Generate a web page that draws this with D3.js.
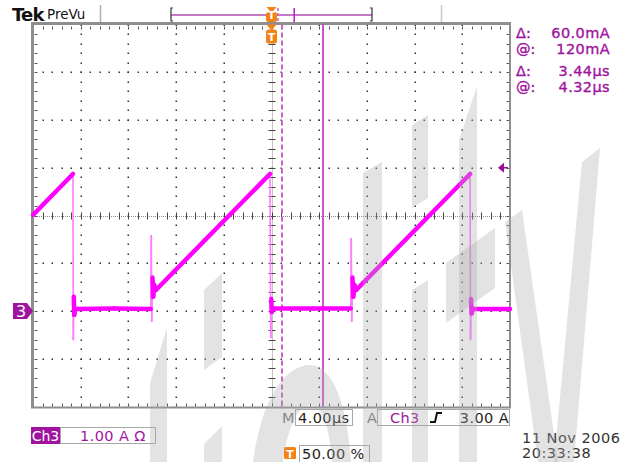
<!DOCTYPE html>
<html><head><meta charset="utf-8">
<script src="https://cdn.jsdelivr.net/npm/d3@7/dist/d3.min.js"></script>
<style>
html,body{margin:0;padding:0;background:#fff;}
svg{display:block;}
text{font-family:"DejaVu Sans",sans-serif;}
</style></head>
<body>
<script>
// ---------------- data ----------------
// time in microseconds relative to trigger, current in amperes (Ch3, 1 A/div)
const timeUs   = [-20, -16.65, -16.62, -16.58, -16.54, -16.47, -13.2, -10.12, -10.08, -10.04, -9.98, -9.92, -9.85, -9.69, -0.13, -0.06, -0.02, 0.02, 0.13, 3.5, 6.65, 6.69, 6.73, 6.79, 6.86, 6.94, 7.10, 16.65, 16.69, 16.73, 16.78, 16.90, 20];
const currentA = [2.01, 2.87, -0.61, 0.30, -0.08, 0.04, 0.05, 0.04, 1.59, -0.23, 0.70, 0.30, 0.55, 0.44, 2.87, -0.57, 0.25, -0.02, 0.05, 0.05, 0.05, 1.53, -0.23, 0.70, 0.30, 0.55, 0.44, 2.87, -0.61, 0.25, -0.05, 0.04, 0.04];
const timeDomain = [-20, 20];      // 4.00 us/div, 10 div
const ampDomain  = [-2, 6];        // 1.00 A/div, 8 div, ground 2 div below centre
const cursorsUs  = [0.88, 4.32];   // dashed, solid
const triggerLevelA = 3.00;
const readoutLabels = ["\u0394:", "@:", "\u0394:", "@:"];
const readoutValues = ["60.0mA", "120mA", "3.44\u00b5s", "4.32\u00b5s"];
const timebaseLabel = "4.00\u00b5s";
const triggerSrc = "Ch3", triggerLevelLabel = "3.00 A";
const chScaleLabel = "1.00 A \u03a9";
const triggerPosLabel = "50.00 %";
const dateLabel = "11 Nov 2006", timeLabel = "20:33:38";

// ---------------- layout ----------------
const W = 630, H = 462;
const L = 33, R = 510, T = 24.5, B = 406.5;
const PURPLE = "#a0139f", TRACE = "#ff00ff", FAST = "#ff7cff", ORANGE = "#f58214";

const svg = d3.select("body").append("svg").attr("width", W).attr("height", H);
const x = d3.scaleLinear().domain(timeDomain).range([L, R]);
const y = d3.scaleLinear().domain(ampDomain).range([B, T]);

// ---------------- graticule ----------------
const g = svg.append("g");
const majT = d3.range(timeDomain[0], timeDomain[1] + 1e-6, 4);
const minT = d3.range(timeDomain[0], timeDomain[1] + 1e-6, 0.8);
const majA = d3.range(ampDomain[0], ampDomain[1] + 1e-6, 1);
const minA = d3.range(ampDomain[0], ampDomain[1] + 1e-6, 0.2);
const cT = 0, cA = 2;
const dots = [];
majT.slice(1, -1).forEach(t => { if (Math.abs(t - cT) > 1e-6) minA.forEach(a => dots.push([x(t), y(a)])); });
majA.slice(1, -1).forEach(a => { if (Math.abs(a - cA) > 1e-6) minT.forEach(t => dots.push([x(t), y(a)])); });
g.selectAll("rect.dot").data(dots).join("rect").attr("class", "dot")
  .attr("x", d => Math.round(d[0]) - 0.5).attr("y", d => Math.round(d[1]) - 0.5)
  .attr("width", 1.5).attr("height", 1.5).attr("fill", "#333");
// centre lines
g.append("line").attr("x1", L).attr("x2", R).attr("y1", Math.round(y(cA)) + 0.5).attr("y2", Math.round(y(cA)) + 0.5)
  .attr("stroke", "#8a8a8a").attr("stroke-dasharray", "1,1");
g.append("line").attr("y1", T).attr("y2", B).attr("x1", Math.round(x(cT)) + 0.5).attr("x2", Math.round(x(cT)) + 0.5)
  .attr("stroke", "#8a8a8a").attr("stroke-dasharray", "1,1");
g.selectAll("line.ctx").data(minT.slice(1, -1)).join("line").attr("class", "ctx")
  .attr("x1", d => Math.round(x(d)) + 0.5).attr("x2", d => Math.round(x(d)) + 0.5)
  .attr("y1", y(cA) - 3).attr("y2", y(cA) + 4).attr("stroke", "#444");
g.selectAll("line.cty").data(minA.slice(1, -1)).join("line").attr("class", "cty")
  .attr("y1", d => Math.round(y(d)) + 0.5).attr("y2", d => Math.round(y(d)) + 0.5)
  .attr("x1", x(cT) - 3).attr("x2", x(cT) + 4).attr("stroke", "#444");
// border ticks
const bt = [];
minT.slice(1, -1).forEach(t => { bt.push([x(t), T + 1, x(t), T + 4]); bt.push([x(t), B - 4, x(t), B - 1]); });
minA.slice(1, -1).forEach(a => { bt.push([L + 1, y(a), L + 4, y(a)]); bt.push([R - 4, y(a), R - 1, y(a)]); });
g.selectAll("line.bt").data(bt).join("line").attr("class", "bt")
  .attr("x1", d => Math.round(d[0]) + 0.5).attr("y1", d => Math.round(d[1]) + 0.5)
  .attr("x2", d => Math.round(d[2]) + 0.5).attr("y2", d => Math.round(d[3]) + 0.5)
  .attr("stroke", "#555");
// frame
g.append("rect").attr("x", L - 2).attr("y", T - 2.5).attr("width", R - L + 3).attr("height", 3).attr("fill", "#8e8e8e");
g.append("rect").attr("x", L - 2).attr("y", T).attr("width", 3).attr("height", B - T + 1).attr("fill", "#8e8e8e");
g.append("rect").attr("x", R - 1).attr("y", T).attr("width", 2).attr("height", B - T + 1).attr("fill", "#8e8e8e");
g.append("rect").attr("x", L - 2).attr("y", B).attr("width", R - L + 3).attr("height", 2).attr("fill", "#8e8e8e");

// ---------------- cursors ----------------
svg.append("line").attr("x1", x(cursorsUs[0])).attr("x2", x(cursorsUs[0])).attr("y1", T).attr("y2", B)
  .attr("stroke", "#c466c4").attr("stroke-width", 2).attr("stroke-dasharray", "5,3");
svg.append("line").attr("x1", x(cursorsUs[1])).attr("x2", x(cursorsUs[1])).attr("y1", T).attr("y2", B)
  .attr("stroke", "#c21ac2").attr("stroke-width", 1.5);

// ---------------- trace ----------------
const pts = timeUs.map((t, i) => [t, currentA[i]]);
const segs = d3.pairs(pts);
const isFast = s => Math.abs(s[1][1] - s[0][1]) > 0.8 && Math.abs(s[1][0] - s[0][0]) < 0.2;
const tg = svg.append("g");
tg.selectAll("line.fast").data(segs.filter(isFast)).join("line").attr("class", "fast")
  .attr("x1", d => x(d[0][0])).attr("y1", d => y(d[0][1])).attr("x2", d => x(d[1][0])).attr("y2", d => y(d[1][1]))
  .attr("stroke", FAST).attr("stroke-width", 1.6);
tg.selectAll("line.slow").data(segs.filter(s => !isFast(s))).join("line").attr("class", "slow")
  .attr("x1", d => x(d[0][0])).attr("y1", d => y(d[0][1])).attr("x2", d => x(d[1][0])).attr("y2", d => y(d[1][1]))
  .attr("stroke", TRACE).attr("stroke-width", 4.5).attr("stroke-linecap", "round");

// ---------------- markers ----------------
const gy = y(0);
svg.append("path").attr("d", `M13,${gy - 8} L27,${gy - 8} L33,${gy} L27,${gy + 8} L13,${gy + 8} Z`).attr("fill", PURPLE);
svg.append("text").attr("x", 21).attr("y", gy + 6).attr("text-anchor", "middle").attr("fill", "#fff")
  .attr("font-size", 16).text("3");
const ty = y(triggerLevelA);
svg.append("path").attr("d", `M498,${ty} L504,${ty - 5} L504,${ty + 5} Z`).attr("fill", "#9a0d9a");
svg.append("line").attr("x1", 503).attr("x2", 508).attr("y1", ty).attr("y2", ty).attr("stroke", "#9a0d9a").attr("stroke-width", 1.5);
function tBadge(cx, top, h) {
  const gg = svg.append("g");
  gg.append("path").attr("d", `M${cx - 5},${top} L${cx + 5},${top} L${cx},${top + 6} Z`).attr("fill", ORANGE);
  gg.append("rect").attr("x", cx - 5.5).attr("y", top + 5).attr("width", 11).attr("height", h).attr("rx", 2.5).attr("fill", ORANGE);
  gg.append("text").attr("x", cx).attr("y", top + 5 + h - 3).attr("text-anchor", "middle").attr("fill", "#fff")
    .attr("font-size", 11).attr("font-weight", "bold").text("T");
}
tBadge(x(0), T, 14);

// ---------------- top status bar ----------------
svg.append("text").attr("x", 12).attr("y", 20.5).attr("font-family", "Liberation Sans, Arial").attr("font-weight", "bold")
  .attr("font-size", 18).attr("letter-spacing", -0.8).attr("fill", "#111").text("Tek");
svg.append("text").attr("x", 47).attr("y", 19).attr("font-size", 13.5).attr("fill", "#111").text("PreVu");
svg.append("line").attr("x1", 100.5).attr("x2", 100.5).attr("y1", 5).attr("y2", 22).attr("stroke", "#b0b0b0").attr("stroke-width", 1.5);
svg.append("line").attr("x1", 441.5).attr("x2", 441.5).attr("y1", 5).attr("y2", 22).attr("stroke", "#c8c8c8").attr("stroke-width", 1.5);
const mini = d3.scaleLinear().domain(timeDomain).range([171, 372]);
svg.append("line").attr("x1", mini(timeDomain[0])).attr("x2", mini(timeDomain[1])).attr("y1", 15).attr("y2", 15)
  .attr("stroke", "#c77bc7").attr("stroke-width", 2);
svg.append("path").attr("d", `M${mini(timeDomain[0]) + 2},8 L${mini(timeDomain[0])},8 L${mini(timeDomain[0])},21 L${mini(timeDomain[0]) + 2},21`)
  .attr("fill", "none").attr("stroke", "#333").attr("stroke-width", 1.2);
svg.append("path").attr("d", `M${mini(timeDomain[1]) - 2},8 L${mini(timeDomain[1])},8 L${mini(timeDomain[1])},21 L${mini(timeDomain[1]) - 2},21`)
  .attr("fill", "none").attr("stroke", "#333").attr("stroke-width", 1.2);
svg.append("line").attr("x1", mini(cursorsUs[0]) + 2).attr("x2", mini(cursorsUs[0]) + 2).attr("y1", 8).attr("y2", 22)
  .attr("stroke", "#c466c4").attr("stroke-width", 1.5).attr("stroke-dasharray", "3,2");
svg.append("line").attr("x1", mini(cursorsUs[1]) + 1).attr("x2", mini(cursorsUs[1]) + 1).attr("y1", 8).attr("y2", 22)
  .attr("stroke", "#c21ac2").attr("stroke-width", 1.5);
tBadge(mini(0), 7, 10);

// ---------------- readouts ----------------
const ro = svg.append("g").attr("fill", PURPLE).attr("stroke", PURPLE).attr("stroke-width", 0.35).attr("font-size", 14.5);
const roY = [38, 54, 76, 92];
readoutLabels.forEach((l, i) => ro.append("text").attr("x", 516).attr("y", roY[i]).text(l));
readoutValues.forEach((v, i) => ro.append("text").attr("x", 610).attr("y", roY[i]).attr("text-anchor", "end").attr("letter-spacing", 0.4).text(v));

// ---------------- bottom status ----------------
const bs = svg.append("g").attr("font-size", 14.5);
bs.append("text").attr("x", 282).attr("y", 423).attr("fill", "#777").text("M");
bs.append("rect").attr("x", 295.5).attr("y", 409.5).attr("width", 57).attr("height", 16).attr("fill", "#fff").attr("stroke", "#a8a8a8");
bs.append("text").attr("x", 298).attr("y", 423).attr("fill", "#222").attr("letter-spacing", 0.4).text(timebaseLabel);
bs.append("text").attr("x", 367).attr("y", 423).attr("fill", "#777").text("A");
bs.append("rect").attr("x", 377.5).attr("y", 409.5).attr("width", 132).attr("height", 16).attr("fill", "#fff").attr("stroke", "#a8a8a8");
bs.append("text").attr("x", 390).attr("y", 423).attr("fill", PURPLE).attr("letter-spacing", 0.4).text(triggerSrc);
bs.append("path").attr("d", "M430,422 L435,422 L437,413 L442,413").attr("fill", "none").attr("stroke", "#111").attr("stroke-width", 2);
bs.append("text").attr("x", 509).attr("y", 423).attr("text-anchor", "end").attr("fill", "#222").attr("letter-spacing", 0.4).text(triggerLevelLabel);
bs.append("rect").attr("x", 31).attr("y", 427).attr("width", 29).attr("height", 17).attr("fill", PURPLE);
bs.append("text").attr("x", 45.5).attr("y", 441).attr("text-anchor", "middle").attr("fill", "#fff").attr("font-size", 14).text("Ch3");
bs.append("rect").attr("x", 60.5).attr("y", 427.5).attr("width", 95).attr("height", 16).attr("fill", "#fff").attr("stroke", "#a8a8a8");
bs.append("text").attr("x", 80).attr("y", 441).attr("fill", PURPLE).attr("letter-spacing", 0.4).text(chScaleLabel);
bs.append("rect").attr("x", 284).attr("y", 447).attr("width", 12).attr("height", 12).attr("rx", 1.5).attr("fill", ORANGE);
bs.append("text").attr("x", 290).attr("y", 457.5).attr("text-anchor", "middle").attr("fill", "#fff").attr("font-size", 11).attr("font-weight", "bold").text("T");
bs.append("rect").attr("x", 299.5).attr("y", 445.5).attr("width", 70).attr("height", 17).attr("fill", "#fff").attr("stroke", "#a8a8a8");
bs.append("text").attr("x", 302).attr("y", 459).attr("fill", "#222").attr("letter-spacing", 0.4).text(triggerPosLabel);
bs.append("text").attr("x", 522).attr("y", 443).attr("fill", "#333").attr("letter-spacing", 0.5).text(dateLabel);
bs.append("text").attr("x", 522).attr("y", 458).attr("fill", "#333").attr("letter-spacing", 0.5).text(timeLabel);

// ---------------- watermark (decorative overlay) ----------------
const wmPolys = [
  [[150,383],[167,328],[167,462],[150,462]],
  [[204,290],[222,273],[222,357],[204,370]],
  [[204,444],[222,426],[222,462],[204,462]],
  [[363,173],[382,162],[382,462],[363,462]],
  [[412,125],[428,115],[428,198],[412,208]],
  [[412,290],[428,280],[428,462],[412,462]],
  [[459,140],[477,86],[477,462],[459,462]],
  [[446,263],[495,228],[495,288],[446,323]],
  [[505,222],[522,210],[558,462],[538,462]],
  [[582,162],[600,148],[574,462],[554,462]]
];
const wm = svg.append("g").attr("fill", "#aaaaaa").attr("fill-opacity", 0.33).attr("pointer-events", "none");
wm.selectAll("path.p").data(wmPolys).join("path").attr("class", "p").attr("d", d => "M" + d.join("L") + "Z");
wm.append("path").attr("fill-rule", "evenodd")
  .attr("d", "M253,462 C262,395 287,365 310,365 C333,365 347,405 351,462 Z M283,462 C288,425 299,405 310,405 C322,405 330,428 332,462 Z");
</script>
</body></html>
